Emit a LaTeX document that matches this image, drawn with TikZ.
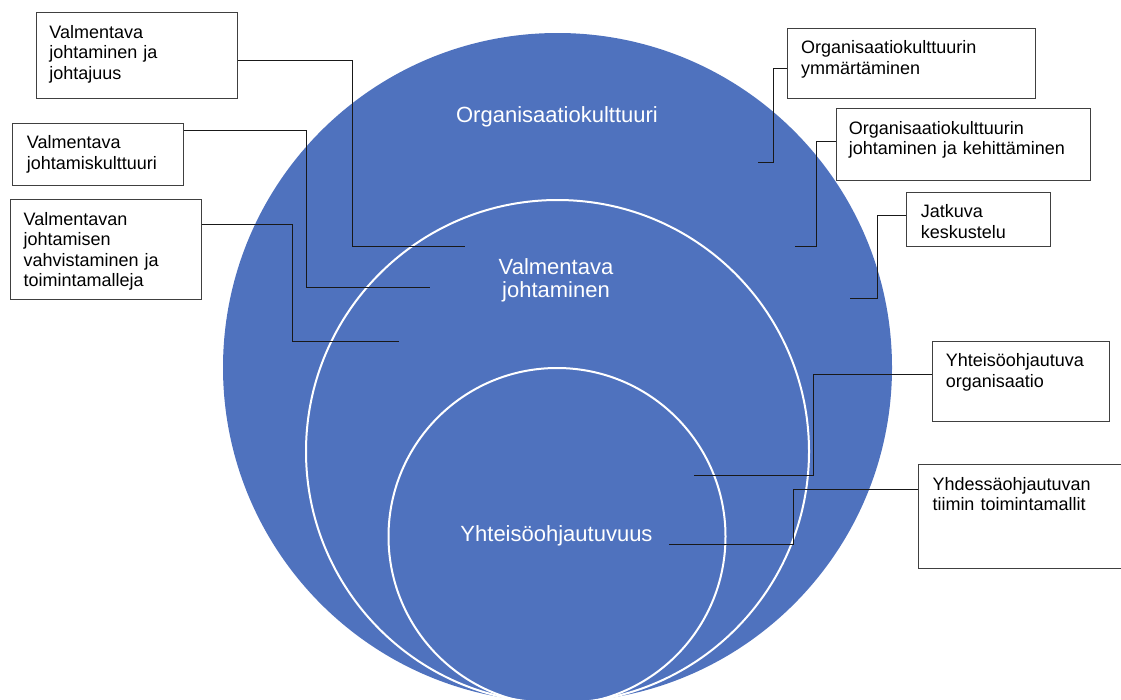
\documentclass[tikz,border=0pt]{standalone}
\usepackage{fontspec}
\setmainfont{Liberation Sans}
\definecolor{blu}{RGB}{79,114,190}
\definecolor{edge}{RGB}{64,64,64}
\begin{document}
\begin{tikzpicture}[x=1pt,y=-1pt,
  disc/.style={circle, inner sep=0pt, outer sep=0pt},
  ring/.style={circle, inner sep=0pt, outer sep=0pt, draw=white, line width=2pt},
  lbl/.style={text=white, font=\fontsize{22}{23}\selectfont, align=center, text width=240pt, inner sep=0pt, anchor=base},
  boxshape/.style={draw=edge, line width=1pt, fill=white, inner sep=0pt, anchor=north west},
  boxtext/.style={font=\fontsize{18}{20.5}\selectfont, anchor=base west, inner sep=0pt, align=left, text width=240pt},
  link/.style={draw=black!90, line width=1pt}
]
\useasboundingbox (0,0) rectangle (1121,699);
\clip (0,0) rectangle (1121,699);

% circles
\node[disc, fill=blu, minimum size=669pt] (outer) at (557.5,367.5) {};
\node[ring, minimum size=503pt] (middle) at (557.5,451.5) {};
\node[ring, minimum size=337pt] (inner) at (557,536.5) {};

\node[lbl] (lo) at (557,122) {Organisaatiokulttuuri};
\node[lbl] (lm) at (556,274) {Valmentava\\johtaminen};
\node[lbl] (li) at (556.5,541.5) {Yhteisöohjautuvuus};

% boxes left
\node[boxshape, minimum width=201.6pt, minimum height=86pt] (b1) at (35.7,12.3) {};
\node[boxshape, minimum width=171.3pt, minimum height=62.3pt] (b2) at (11.7,122.7) {};
\node[boxshape, minimum width=190.7pt, minimum height=100pt] (b3) at (10,199.3) {};
% boxes right
\node[boxshape, minimum width=248pt, minimum height=70.6pt] (r1) at (787,27.7) {};
\node[boxshape, minimum width=254.3pt, minimum height=72pt] (r2) at (835.7,108) {};
\node[boxshape, minimum width=144.3pt, minimum height=54.3pt] (r3) at (905.7,191.7) {};
\node[boxshape, minimum width=177.3pt, minimum height=80.3pt] (r4) at (931.7,340.7) {};
\node[boxshape, minimum width=210pt, minimum height=104.3pt] (r5) at (918.3,464) {};

% box texts
\node[boxtext] (t1) at ([xshift=13.5pt,yshift=-26pt]b1.north west) {Valmentava\\johtaminen ja\\johtajuus};
\node[boxtext] (t2) at ([xshift=15pt,yshift=-26pt]b2.north west) {Valmentava\\johtamiskulttuuri};
\node[boxtext] (t3) at ([xshift=13.5pt,yshift=-26pt]b3.north west) {Valmentavan\\johtamisen\\vahvistaminen ja\\toimintamalleja};
\node[boxtext] (t4) at ([xshift=14pt,yshift=-26pt]r1.north west) {Organisaatiokulttuurin\\ymmärtäminen};
\node[boxtext] (t5) at ([xshift=13pt,yshift=-26pt]r2.north west) {Organisaatiokulttuurin\\johtaminen ja kehittäminen};
\node[boxtext] (t6) at ([xshift=15pt,yshift=-26pt]r3.north west) {Jatkuva\\keskustelu};
\node[boxtext] (t7) at ([xshift=14pt,yshift=-26pt]r4.north west) {Yhteisöohjautuva\\organisaatio};
\node[boxtext] (t8) at ([xshift=14pt,yshift=-26pt]r5.north west) {Yhdessäohjautuvan\\tiimin toimintamallit};

% connector knees and free ends
\coordinate (k1) at (352,246); \coordinate (e1) at (465,246);
\coordinate (k2) at (306,287); \coordinate (e2) at (430,287);
\coordinate (k3) at (292,341); \coordinate (e3) at (399,341);
\coordinate (k4) at (773,162); \coordinate (e4) at (758,162);
\coordinate (k5) at (816,246); \coordinate (e5) at (795,246);
\coordinate (k6) at (877,298); \coordinate (e6) at (850,298);
\coordinate (k7) at (813,475); \coordinate (e7) at (694,475);
\coordinate (k8) at (793,544); \coordinate (e8) at (669,544);

\draw[link] ([yshift=-47.7pt]b1.north east) -| (k1) -- (e1);
\draw[link] ([yshift=-8pt]b2.north east) -| (k2) -- (e2);
\draw[link] ([yshift=-25pt]b3.north east) -| (k3) -- (e3);
\draw[link] ([yshift=-40.6pt]r1.north west) -| (k4) -- (e4);
\draw[link] ([yshift=-33.7pt]r2.north west) -| (k5) -- (e5);
\draw[link] ([yshift=-23.3pt]r3.north west) -| (k6) -- (e6);
\draw[link] ([yshift=-33.3pt]r4.north west) -| (k7) -- (e7);
\draw[link] ([yshift=-25.3pt]r5.north west) -| (k8) -- (e8);
\end{tikzpicture}
\end{document}
